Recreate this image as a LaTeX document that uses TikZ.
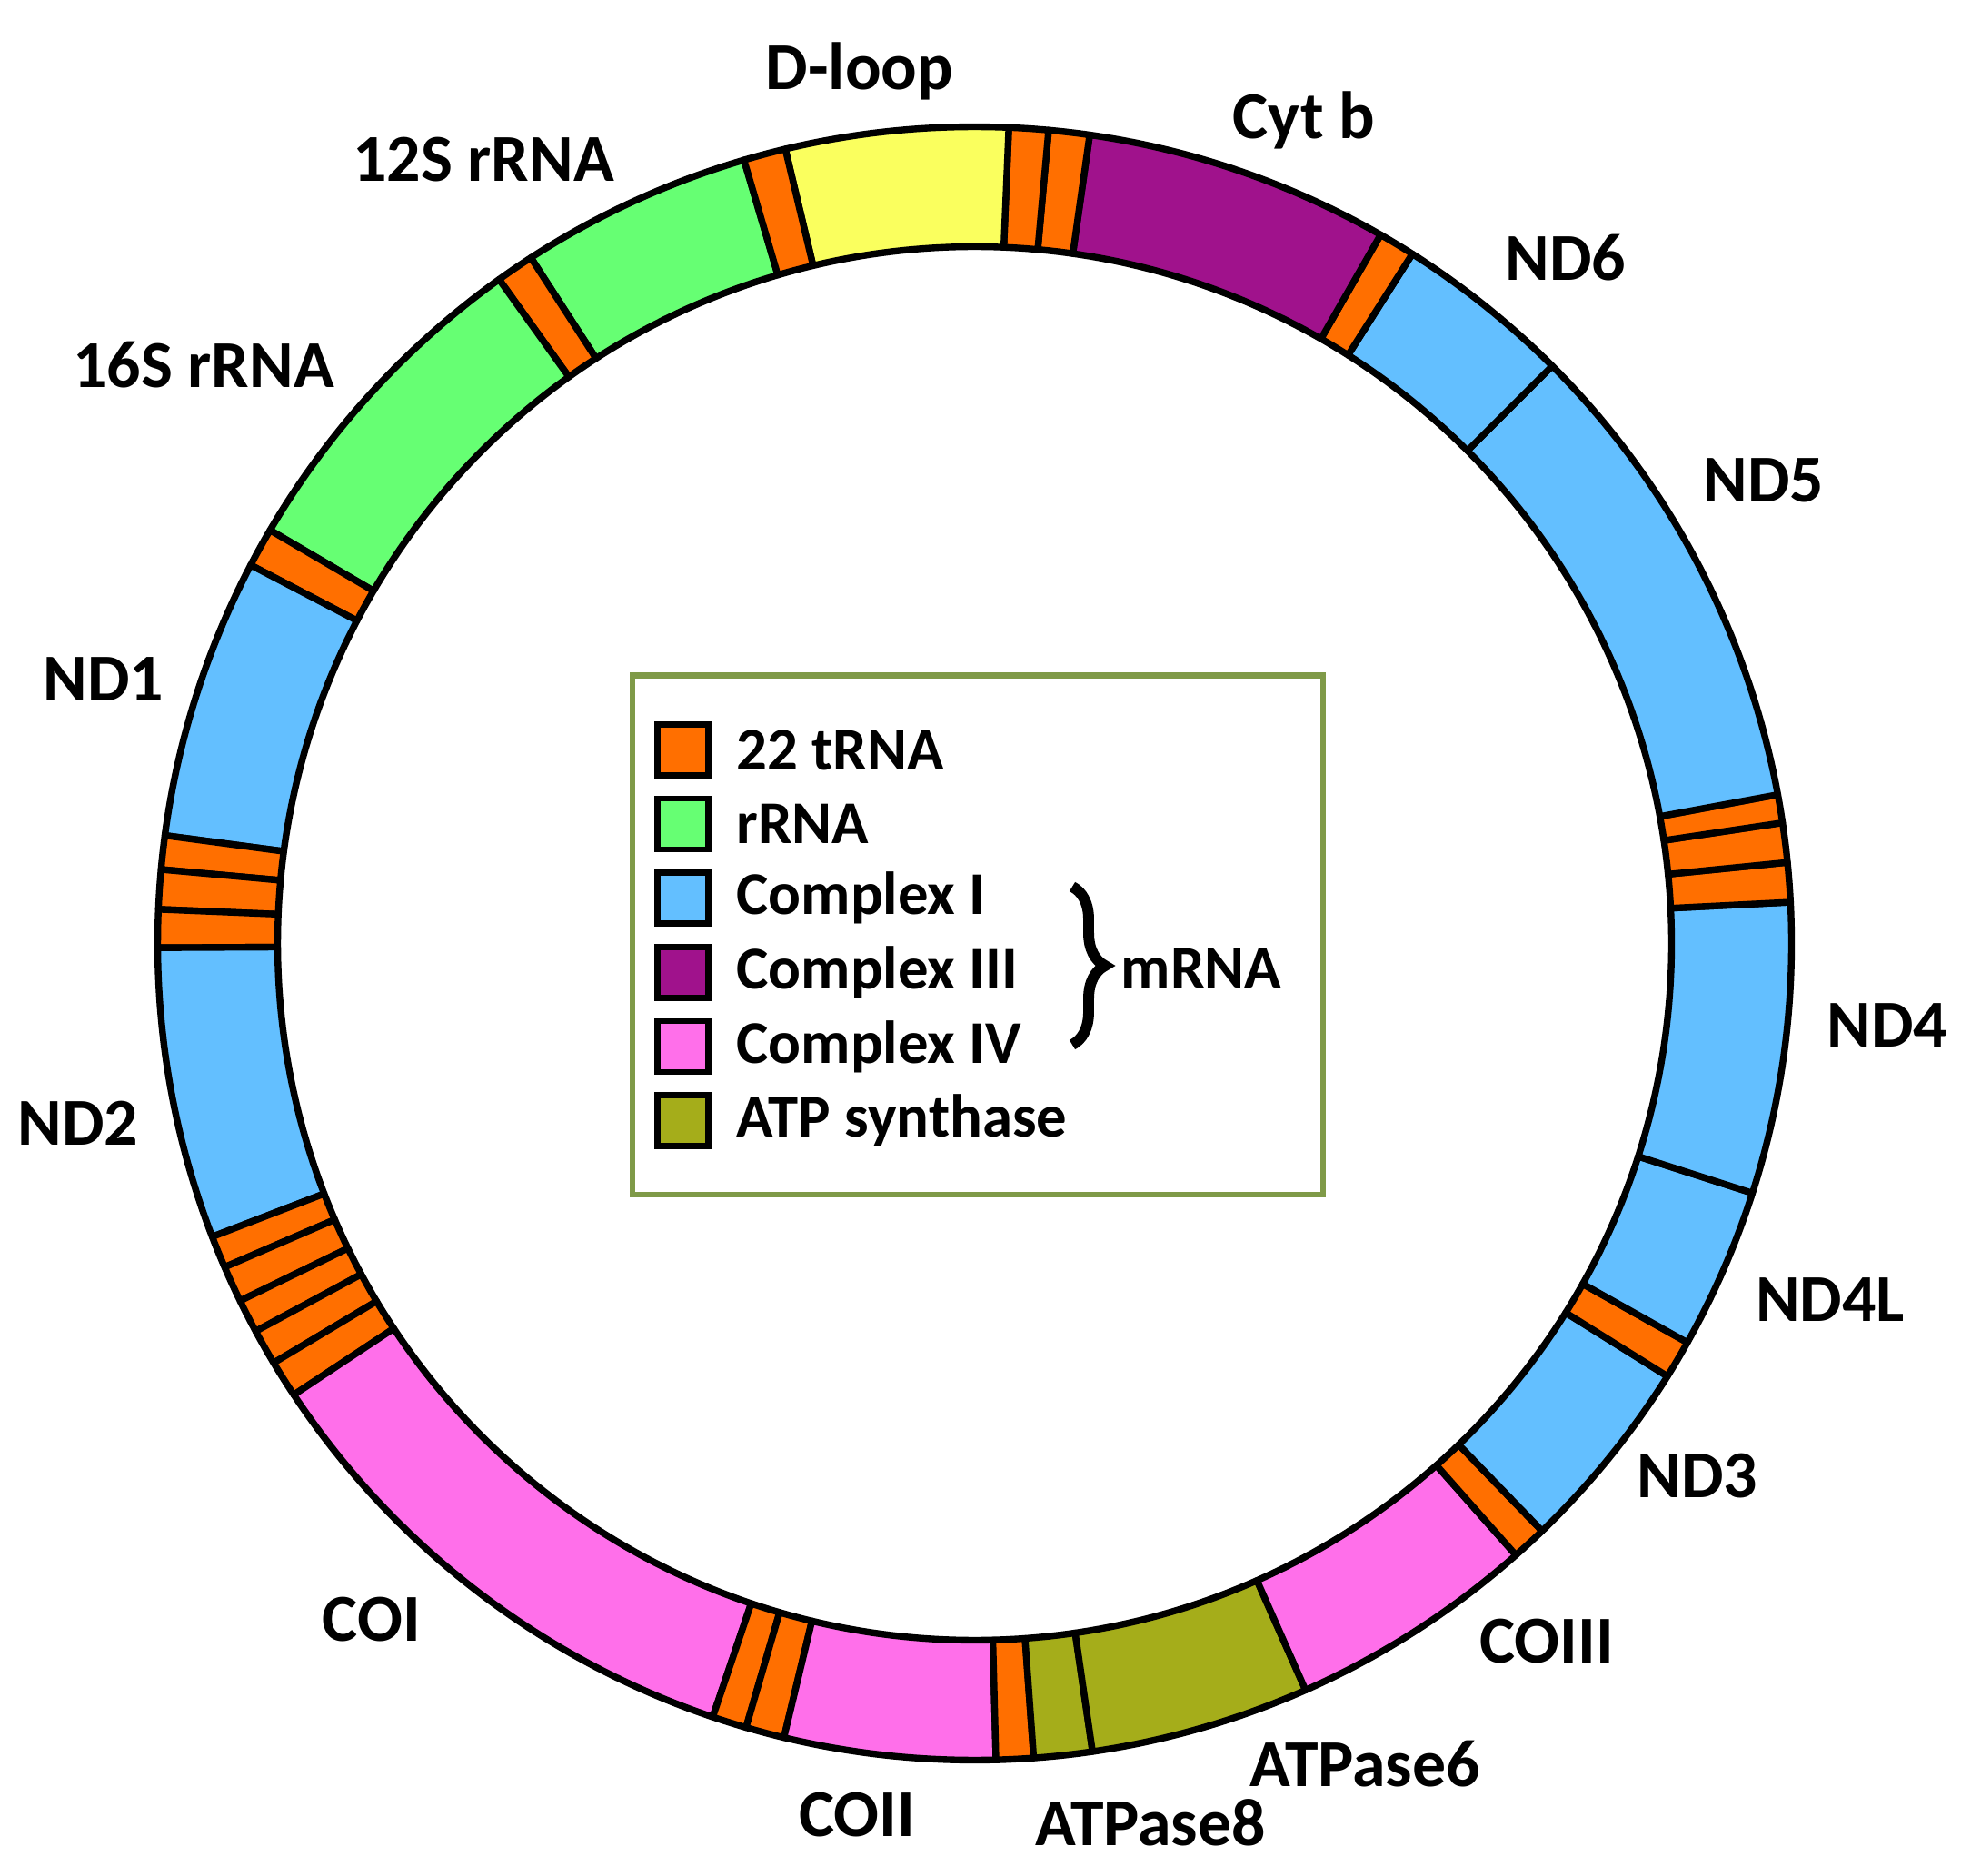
\documentclass[tikz,border=0pt]{standalone}
\usepackage{fontspec}
\setmainfont{Carlito}
\usetikzlibrary{positioning,decorations.pathreplacing}

\definecolor{trna}{RGB}{255,111,0}
\definecolor{rrna}{RGB}{102,255,115}
\definecolor{cplxI}{RGB}{99,191,255}
\definecolor{cplxIII}{RGB}{160,18,140}
\definecolor{cplxIV}{RGB}{255,111,234}
\definecolor{atps}{RGB}{165,173,26}
\definecolor{dloop}{RGB}{250,255,94}
\definecolor{keyframe}{RGB}{127,154,72}

\def\Rout{8.99}
\def\Rin{7.67}

\begin{document}
\begin{tikzpicture}[
    gene/.style = {font=\fontsize{21}{25}\selectfont\bfseries},
    keytext/.style = {font=\fontsize{19}{23}\selectfont\bfseries, inner sep=0pt},
    swatch/.style = {draw, line width=1.9pt, minimum size=0.56cm, inner sep=0pt},
    part/.style = {draw, line width=2.1pt, line join=round}
]
\useasboundingbox (0,0) rectangle (21.69,20.64);

% ring of genes, angles in degrees (counterclockwise)
\begin{scope}[shift={(10.725,10.255)}]
    \foreach \a/\b/\c in {106.4/122.9/rrna, 122.9/125.6/trna, 125.6/149.6/rrna,
        149.6/152.4/trna, 152.4/172.4/cplxI, 172.4/174.8/trna, 174.8/177.6/trna,
        177.6/180.3/trna, 180.3/201.05/cplxI, 201.05/203.35/trna, 203.35/205.95/trna,
        205.95/208.35/trna, 208.35/210.9/trna, 210.9/213.55/trna, 213.55/251.3/cplxIV,
        251.3/253.75/trna, 253.75/256.5/trna, 256.5/271.5/cplxIV, 271.5/274.15/trna,
        274.15/278.3/atps, 278.3/293.9/atps, 293.9/311.5/cplxIV, 311.5/314/trna,
        314/328/cplxI, 328/330.75/trna, 330.75/342.2/cplxI, 342.2/362.9/cplxI,
        362.9/365.7/trna, 365.7/368.5/trna, 368.5/370.5/trna, 370.5/405/cplxI,
        405/417.6/cplxI, 417.6/420.2/trna, 420.2/441.9/cplxIII, 441.9/444.8/trna,
        444.8/447.6/trna, 447.6/463.4/dloop, 463.4/466.4/trna}
    {
        \path[part, fill=\c] (\a:\Rout) arc[start angle=\a, end angle=\b, radius=\Rout]
            -- (\b:\Rin) arc[start angle=\b, end angle=\a, radius=\Rin] -- cycle;
    }
\end{scope}

% gene names
\path   node[gene] (dloopname) at (9.46, 19.86) {D-loop}
        node[gene] (cytb) at (14.35, 19.32) {Cyt b}
        node[gene] (rrna12) at (5.32, 18.88) {12S rRNA}
        node[gene] (rrna16) at (2.24, 16.62) {16S rRNA}
        node[gene] (nd6) at (17.23, 17.80) {ND6}
        node[gene] (nd5) at (19.41, 15.35) {ND5}
        node[gene] (nd1) at (1.14, 13.16) {ND1}
        node[gene] (nd4) at (20.77, 9.35) {ND4}
        node[gene] (nd2) at (0.86, 8.28) {ND2}
        node[gene] (nd4l) at (20.14, 6.33) {ND4L}
        node[gene] (nd3) at (18.68, 4.39) {ND3}
        node[gene] (coi) at (4.09, 2.81) {COI}
        node[gene] (coiii) at (17.02, 2.57) {COIII}
        node[gene] (atp6) at (15.02, 1.22) {ATPase6}
        node[gene] (coii) at (9.43, 0.66) {COII}
        node[gene] (atp8) at (12.66, 0.58) {ATPase8};

% key
\draw[keyframe, line width=1.8pt] (6.96, 7.49) rectangle (14.56, 13.205);
\foreach \c/\t [count=\i] in {trna/22 tRNA, rrna/rRNA, cplxI/Complex I,
    cplxIII/Complex III, cplxIV/Complex IV, atps/ATP synthase}
{
    \node[swatch, fill=\c] (sw\i) at (7.515, 12.385-0.816*\i+0.816) {};
    \node[keytext, right=0.27cm of sw\i] (kt\i) {\t};
}
\coordinate (bracetop) at (11.80, 10.88);
\coordinate (bracebot) at (11.80, 9.14);
\draw[decorate, decoration={brace, amplitude=0.36cm}, line width=3.4pt] (bracetop) -- (bracebot);
\node[keytext, anchor=west] (mrna) at (12.33, 9.98) {mRNA};
\end{tikzpicture}
\end{document}
